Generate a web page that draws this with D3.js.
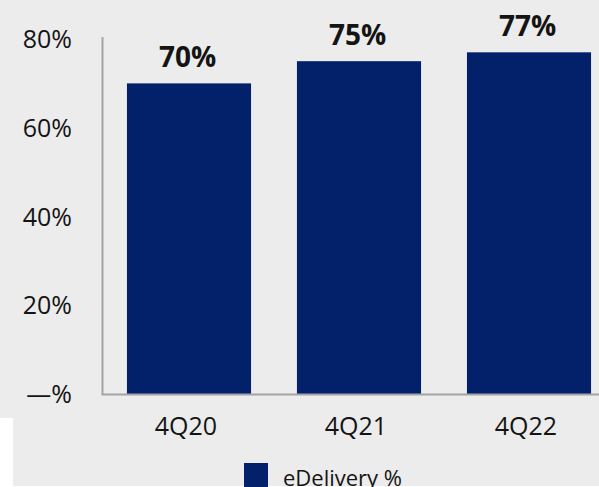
<!DOCTYPE html>
<html>
<head>
<meta charset="utf-8">
<script src="https://cdn.jsdelivr.net/npm/d3@7"></script>
<style>
  html, body { margin: 0; padding: 0; background: #ffffff; }
  svg { display: block; }
  text { font-family: "Open Sans", "Noto Sans", sans-serif; }
</style>
</head>
<body>
<svg id="chart" width="599" height="487"></svg>
<script>
const categories = ["4Q20", "4Q21", "4Q22"];
const values = [70, 75, 77];
const valueLabels = ["70%", "75%", "77%"];
const yTicks = [0, 20, 40, 60, 80];
const yTickLabels = ["—%", "20%", "40%", "60%", "80%"];
const seriesName = "eDelivery %";

const W = 599, H = 487;
const svg = d3.select("#chart");

// background
svg.append("rect").attr("x", 0).attr("y", 0).attr("width", W).attr("height", H).attr("fill", "#ececec");
svg.append("rect").attr("x", 0).attr("y", 418).attr("width", 13).attr("height", H - 418).attr("fill", "#ffffff");
svg.append("rect").attr("x", 0).attr("y", 486).attr("width", W).attr("height", 1).attr("fill", "#ffffff");

const barColor = "#03216a";
const axisColor = "#a3a3a3";
const textColor = "#141414";

const y = d3.scaleLinear().domain([0, 80]).range([394, 39]);
const x = d3.scaleBand().domain(categories).range([104, 614]).paddingInner(0.27).paddingOuter(0.135);

// bars
svg.selectAll("rect.bar").data(values).enter().append("rect")
  .attr("class", "bar")
  .attr("x", (d, i) => x(categories[i]))
  .attr("y", d => y(d))
  .attr("width", x.bandwidth())
  .attr("height", d => y(0) - y(d))
  .attr("fill", barColor);

// axes lines
svg.append("line").attr("x1", 102.5).attr("x2", 102.5).attr("y1", 37).attr("y2", 394.5)
  .attr("stroke", axisColor).attr("stroke-width", 2);
svg.append("line").attr("x1", 101.5).attr("x2", W).attr("y1", 394.5).attr("y2", 394.5)
  .attr("stroke", axisColor).attr("stroke-width", 2);

// y tick labels
svg.selectAll("text.ytick").data(yTicks).enter().append("text")
  .attr("class", "ytick")
  .attr("x", 72)
  .attr("y", d => y(d) + 9)
  .attr("text-anchor", "end")
  .attr("font-size", 25)
  .attr("fill", textColor)
  .text((d, i) => yTickLabels[i]);

// x category labels
svg.selectAll("text.xtick").data(categories).enter().append("text")
  .attr("class", "xtick")
  .attr("x", d => x(d) + x.bandwidth() / 2 - 3)
  .attr("y", 435)
  .attr("text-anchor", "middle")
  .attr("font-size", 25)
  .attr("fill", textColor)
  .text(d => d);

// value labels
svg.selectAll("text.vlabel").data(values).enter().append("text")
  .attr("class", "vlabel")
  .attr("x", (d, i) => x(categories[i]) + x.bandwidth() / 2 - 1.5)
  .attr("y", d => y(d) - 16)
  .attr("text-anchor", "middle")
  .attr("font-size", 28)
  .attr("font-weight", "bold")
  .attr("fill", textColor)
  .text((d, i) => valueLabels[i]);

// legend
const lg = svg.append("g");
lg.append("rect").attr("x", 244).attr("y", 463).attr("width", 24).attr("height", 30).attr("fill", barColor);
lg.append("text").attr("x", 283).attr("y", 485.5).attr("font-size", 22).attr("fill", textColor).text(seriesName);
</script>
</body>
</html>
